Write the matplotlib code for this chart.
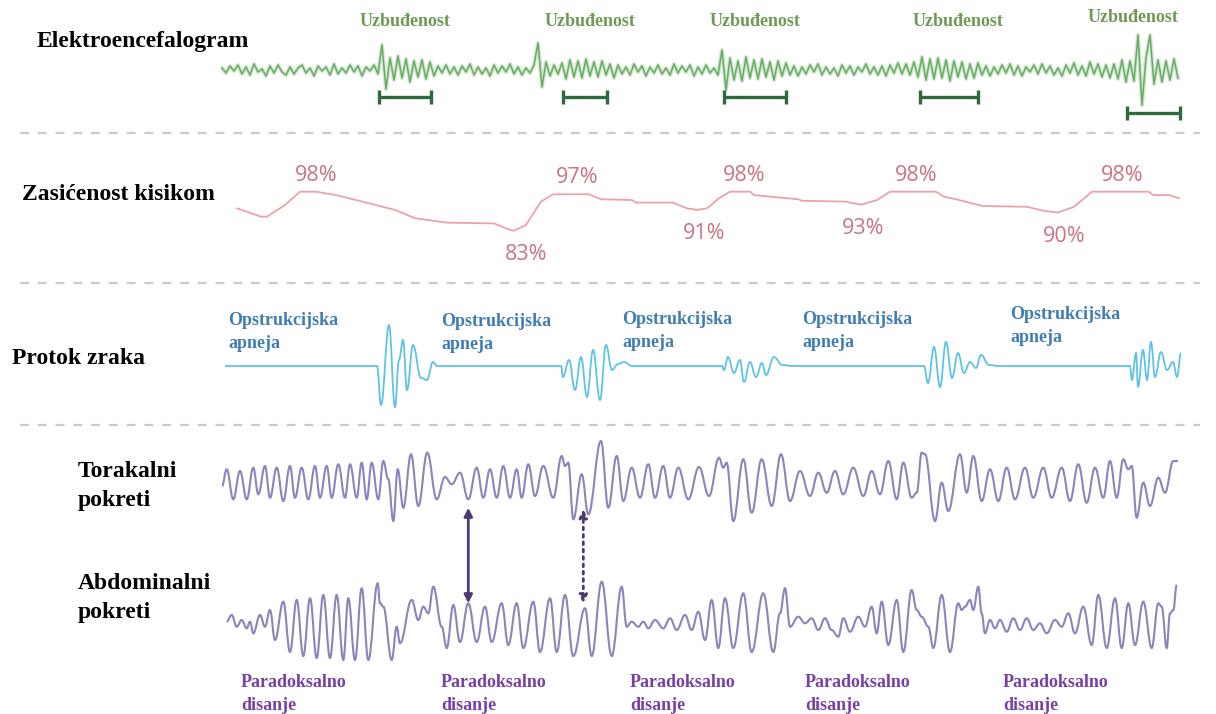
import numpy as np
import matplotlib
matplotlib.use('Agg')
import matplotlib.pyplot as plt
from matplotlib.lines import Line2D
from matplotlib.path import Path
from matplotlib.patches import PathPatch

# ---- data (time axis in samples, 0 = start of the trace area) ----
eeg_vals = [
    2, -3, 4, -1, 5, -4, 3, -5, 6, -2, 1, -6, 4, -3, 5, -2, -5, 3, -4, 2,
    5, -3, 2, -6, 4, -1, 3, -5, 6, -4, 2, -3, 5, -2, 4, -6, 3, -1, 5, -4,
    25, -19, 12, -10, 14, -8, 11, -12, 9, -7, 10, -9, 8, -6, 4, -3, 5, -4, 3, -5,
    4, -2, 6, -5, 3, -4, 2, -6, 5, -3, 4, -2, 6, -4, 3, -5, 2, -3, 5, 27,
    -17, 8, -6, 5, -4, 7, -9, 10, -7, 9, -8, 11, -6, 8, -7, 9, -5, 6, -8, 5,
    -4, 3, -5, 6, -2, 4, -6, 3, -3, 5, -4, 2, -5, 6, -3, 4, -2, 5, -6, 3,
    -4, 5, -3, 2, -5, 20, -20, 12, -10, 9, -11, 13, -8, 10, -9, 11, -7, 8, -10, 9,
    -6, 7, -5, 4, -6, 3, -4, 5, -2, 6, -5, 3, -4, 2, -6, 5, -3, 4, -5, 3,
    -2, 6, -4, 3, -5, 4, -6, 5, -3, 7, -4, 6, -5, 8, -7, 13, -10, 11, -9, 12,
    -8, 10, -11, 9, -7, 8, -9, 6, -8, 7, -5, 4, -6, 3, -4, 5, -3, 6, -5, 4,
    -6, 3, -2, 5, -4, 6, -3, 4, -5, 2, -6, 5, -3, 7, -5, 4, -6, 8, -4, 6,
    -7, 5, -8, 6, -9, 10, -12, 9, -11, 35, -35, 12, 35, -14, 10, -12, 9, -10, 11, -8,
]
arousal_start = [154, 338, 499, 695, 902]
arousal_end = [206, 382, 561, 753, 955]
arousal_level = [-27, -27, -27, -27, -43]
arousal_label_t = [180, 365, 530, 733, 908]
arousal_label_y = [48, 48, 48, 48, 52]

spo2_t = [12, 36, 42, 60, 75, 91, 111, 131, 170, 190, 222, 269, 285, 289, 301, 316, 328, 364, 376, 407,
          411, 448, 462, 472, 482, 494, 505, 525, 529, 545, 573, 577, 620, 636, 652, 665, 711, 719, 731, 747,
          758, 802, 818, 833, 849, 867, 924, 928, 944, 954]
spo2_pct = [91.6, 88.4, 88.4, 92.9, 98, 98, 96.7, 94.8, 91.0, 87.8, 86.1, 85.8, 83.3, 83, 85.2, 94.2, 97, 97, 95.1, 94.8,
            93.8, 93.8, 91.6, 91, 91.6, 95.5, 98, 98, 96.7, 96.1, 95.1, 94.5, 94.2, 93, 94.8, 98, 98, 96.1, 95.1, 93.5,
            92.5, 92.2, 90.7, 90, 92.2, 98, 98, 96.7, 96.7, 95.5]
spo2_label_t = [91, 301, 352, 479, 519, 638, 691, 839, 897]
spo2_label_val = [98, 83, 97, 91, 98, 93, 98, 90, 98]

flow_t = [0, 152, 156, 164, 170, 174, 178, 182, 188, 196, 202, 208, 212,
          336, 338, 344, 350, 356, 362, 368, 375, 381, 387, 393, 399, 407,
          497, 499, 503, 509, 515, 519, 525, 531, 537, 541, 549, 557, 569,
          699, 703, 709, 715, 721, 727, 733, 739, 745, 751, 756, 764, 774,
          905, 907, 911, 913, 918, 922, 926, 930, 936, 942, 948, 952, 956]
flow_vals = [0, 0, -39, 41, -41, 6, 26, -24, 21, -12, -14, 4, 0,
             0, -11, 6, -24, 9, -31, 16, -34, 21, -4, 2, 4, 0,
             0, -4, 9, -7, 6, -16, 4, -11, 3, -9, 9, 1, 0,
             0, -17, 19, -21, 24, -12, 13, -7, 4, -2, 11, 1, 0,
             0, -14, 13, -21, 16, -14, 24, -11, 14, -4, 4, -11, 13]
apnea_label_t = [3, 216, 397, 577, 785]
apnea_label_y = [34, 33, 35, 35, 40]

thor_t = [-3, 1.7, 8.3, 15, 21.7, 28.3, 33.3, 40, 45, 51.7,
          58.3, 65, 70, 76.7, 83.3, 90, 95, 101.7, 106.7, 113.3,
          120, 125, 131.7, 136.7, 141.7, 146.7, 153.3, 158.3, 163.3, 168.3,
          172.7, 178.3, 186, 193.3, 202.3, 211.7, 220, 226.7, 235, 243.3,
          251.7, 258.3, 265, 271.7, 278.3, 285, 291.7, 296.7, 303.3, 310,
          318.3, 328.3, 336.7, 340, 343.3, 348.3, 356.7, 363.3, 376, 383.3,
          391.7, 398.3, 406.7, 415, 423.3, 430, 438.3, 445, 453.3, 463.3,
          474, 484, 494, 498.3, 501.7, 508.3, 518.3, 526.7, 536.7, 546.7,
          556, 565, 575, 585, 593.3, 601.7, 610, 618.3, 628.3, 638.3,
          646.7, 655, 663.3, 671.7, 678.3, 686.7, 691.7, 696.7, 700, 710,
          716.7, 723.3, 735, 741.7, 748.3, 756.7, 765, 773.3, 781.7, 790,
          800, 808.3, 818.3, 826.7, 836.7, 845, 853.3, 861.7, 870, 878.3,
          885, 891.7, 898.3, 903.3, 906.7, 911.7, 918.3, 925, 933.3, 940,
          948.3, 953]
thor_vals = [-3, 13.7, -16.3, 12, -16.3, 15.3, -11.3, 17, -14.7, 15.3,
             -18, 17, -14.7, 15.3, -16.3, 17, -14.7, 17, -14.7, 18.7,
             -14.7, 18.7, -14.7, 20.3, -16.3, 20.3, -16.3, 22, 3.7, -38,
             13.7, -24.7, 28.7, -23, 30.3, -16.3, 6, -1.3, 10.3, -16.3,
             15.3, -14.7, 13.7, -14.7, 17, -14.7, 13.7, -14.7, 18.7, -13,
             17, -14.7, 27, 17, 20.3, -36.3, 8.7, -31.3, 42, -24.7,
             27, -18, 15.3, -14.7, 18.7, -14.7, 17, -14.7, 15.3, -16.3,
             16, -13, 25.3, 15.3, 20.3, -38, 23.7, -29.7, 23.7, -23,
             28.7, -18, 12, -13, 10.3, -9.7, 12, -11.3, 15.3, -13,
             12, -11.3, 22, -16.3, 20.3, -14.7, -9.7, 30.3, 28.7, -38,
             0.3, -28, 28.7, -9.7, 27, -18, 13.7, -18, 15.3, -16.3,
             15.3, -14.7, 15.3, -14.7, 15.3, -18, 18.7, -19.7, 15.3, -14.7,
             22, -14.7, 23.7, 13.7, 17, -34.7, 0.3, -23, 5.3, -9.7,
             22, 22]

abd_t = [1.7, 6.7, 11.7, 16.7, 21.7, 25, 28.3, 35, 40, 45,
         50, 58.3, 65, 71.7, 78.3, 85, 91.7, 98.3, 105, 111.7,
         118.3, 123.3, 130, 136.7, 143.3, 152.7, 155, 158.3, 166.7, 171.7,
         175, 186.7, 193.3, 198.3, 203.3, 208.3, 216.7, 221.7, 228.3, 235,
         243.3, 251.7, 260, 266.7, 276.7, 283.3, 291.7, 298.3, 308.3, 315,
         325, 331.7, 340, 348.3, 360, 366.7, 376.7, 386.7, 396.7, 401.7,
         406.7, 413.3, 418.3, 423.3, 430, 438.3, 445, 451.7, 460, 466.7,
         473.3, 480, 486.7, 493.3, 500, 508.3, 518.3, 526.7, 538.3, 548.3,
         555, 560, 565, 573.3, 580, 586.7, 593.3, 600, 606.7, 613.3,
         618.3, 625, 633.3, 640, 646.7, 651.7, 656.7, 663.3, 671.7, 678.3,
         686.7, 691.7, 696.7, 703.3, 708.3, 716.7, 725, 733.3, 736.7, 740,
         745, 748.3, 753.3, 756.7, 760, 765, 770, 775, 781.7, 788.3,
         795, 801.7, 808.3, 815, 821.7, 830, 836.7, 843.3, 850, 858.3,
         866.7, 873.3, 881.7, 890, 896.7, 903.3, 910, 918.3, 926.7, 933.3,
         936.7, 941.7, 945, 948.3, 951.7]
abd_vals = [-1.7, 5, -6.7, 0, -8.3, -1.7, -13.3, 5, -6.7, 10,
            -20, 18.3, -32, 20, -36, 21.7, -38, 25, -38, 25,
            -40, 21.7, -40, 31.7, -40, 36.7, 16.7, 13.3, -40, -6.7,
            -23.3, 20, 0, 13.3, 6.7, 33.3, -6.7, -28, 15, -22,
            16.7, -22, 13.3, -22, 16.7, -25, 16.7, -28, 18.3, -32,
            21.7, -32, 25, -36, 11.7, -36, 38.3, -36, 33.3, -6.7,
            -1.7, -6.7, -1.7, -8.3, 0, -8.3, 1.7, -10, 5, -10,
            8.3, -20, 20, -28, 21.7, -28, 26.7, -32, 26.7, -32,
            6.7, 31.7, -6.7, 3.3, -3.3, 1.7, -10, 1.7, -10, -16.7,
            1.7, -11.7, 3.3, -6.7, 13.3, -13.3, 18.3, -25, 20, -32,
            30, 10, 3.3, -6.7, -28, 25, -32, 16.7, 10, 13.3,
            20, 10, 33.3, 6.7, -13.3, 0, -8.3, 0, -11.7, 1.7,
            -10, 1.7, -10, -3.3, -13.3, 0, -6.7, 6.7, -13.3, 13.3,
            -25, 25, -28, 21.7, -28, 16.7, -25, 18.3, -28, 16.7,
            13.3, -28, 6.7, 10, 35]
arrow_t = [243.3, 358.3]
arrow_thor_end = [-24.7, -26.3]
arrow_abd_end = [16.7, 16.7]
arrow_style = ['-', ':']
paradox_label_t = [16, 216, 405, 580, 778]

W, H = 1216, 714
SERIF = 'Liberation Serif'

fig = plt.figure(figsize=(W / 100, H / 100), dpi=100)
fig.patch.set_facecolor('white')


def row_axes(top_px, bottom_px, ylim):
    ax = fig.add_axes([222 / W, 1 - bottom_px / H, 960 / W, (bottom_px - top_px) / H])
    ax.set_xlim(-3, 957)
    ax.set_ylim(*ylim)
    ax.axis('off')
    return ax


def fig_text(x_px, y_px, s, **kw):
    fig.text(x_px / W, 1 - y_px / H, s, **kw)


def smooth_trace(ax, t, v, **kw):
    # rounded waveform: cubic segments with flat tangents at each turning point
    verts = [(t[0], v[0])]
    codes = [Path.MOVETO]
    for i in range(len(t) - 1):
        d = (t[i + 1] - t[i]) * 0.4
        verts += [(t[i] + d, v[i]), (t[i + 1] - d, v[i + 1]), (t[i + 1], v[i + 1])]
        codes += [Path.CURVE4] * 3
    ax.add_patch(PathPatch(Path(verts, codes), fill=False, clip_on=False, **kw))


# row titles
row_kw = dict(family=SERIF, weight='bold', fontsize=17, color='black', va='center', ha='left',
              linespacing=1.5)
fig_text(37, 42, 'Elektroencefalogram', **row_kw)
fig_text(22, 195, 'Zasićenost kisikom', **row_kw)
fig_text(12, 358, 'Protok zraka', **row_kw)
fig_text(78, 486, 'Torakalni\npokreti', **row_kw)
fig_text(78, 598, 'Abdominalni\npokreti', **row_kw)

# dashed separators
for y in [133, 283, 425]:
    fig.add_artist(Line2D([20 / W, 1200 / W], [1 - y / H, 1 - y / H], transform=fig.transFigure,
                          color='#cacaca', lw=1.6, ls=(0, (4, 4))))

# EEG
ax_eeg = row_axes(20, 120, (-50, 50))
eeg_t = np.arange(len(eeg_vals)) * 4 - 3
ax_eeg.plot(eeg_t, eeg_vals, color='#7fbf7a', lw=3.0, alpha=0.35, clip_on=False)
ax_eeg.plot(eeg_t, eeg_vals, color='#6aaa66', lw=1.1, clip_on=False)
for a, b, lev in zip(arousal_start, arousal_end, arousal_level):
    ax_eeg.errorbar((a + b) / 2, lev, xerr=(b - a) / 2, fmt='none', ecolor='#2f6a3d',
                    elinewidth=2.4, capsize=5, capthick=2.4, clip_on=False)
for t, y in zip(arousal_label_t, arousal_label_y):
    ax_eeg.text(t, y, 'Uzbuđenost', family=SERIF, weight='bold', fontsize=13,
                color='#6e9a55', ha='center', va='center')

# SpO2
ax_spo2 = row_axes(150, 260, (71.73, 114.04))
ax_spo2.plot(spo2_t, spo2_pct, color='#eaa3aa', lw=1.3, clip_on=False)
for t, v in zip(spo2_label_t, spo2_label_val):
    dy = 12 if v >= 97 else -17
    ax_spo2.annotate(f'{v}%', xy=(t, v), xytext=(0, dy), textcoords='offset points',
                     ha='center', va='center', fontsize=15.5, family='Open Sans',
                     color='#c97483')

# airflow
ax_flow = row_axes(300, 420, (-54, 66))
smooth_trace(ax_flow, flow_t, flow_vals, edgecolor='#5fc3e4', lw=1.3)
for t, y in zip(apnea_label_t, apnea_label_y):
    ax_flow.text(t, y, 'Opstrukcijska\napneja', family=SERIF, weight='bold', fontsize=13,
                 color='#3f7db3', ha='left', va='center', linespacing=1.4)

# thoracic / abdominal effort
ax_thor = row_axes(430, 540, (-57, 53))
smooth_trace(ax_thor, thor_t, thor_vals, edgecolor='#8c84ba', lw=1.5)
ax_abd = row_axes(560, 680, (-60, 60))
smooth_trace(ax_abd, abd_t, abd_vals, edgecolor='#8c84ba', lw=1.5)

for t, yt, ya, ls in zip(arrow_t, arrow_thor_end, arrow_abd_end, arrow_style):
    ax_abd.annotate('', xy=(t, ya), xycoords='data', xytext=(t, yt), textcoords=ax_thor.transData,
                    annotation_clip=False,
                    arrowprops=dict(arrowstyle='<|-|>', color='#4d3a72', lw=2.0, ls=ls,
                                    shrinkA=0, shrinkB=0, mutation_scale=12))

for t in paradox_label_t:
    ax_abd.text(t, -74, 'Paradoksalno\ndisanje', family=SERIF, weight='bold', fontsize=13,
                color='#7a3fa6', ha='left', va='center', linespacing=1.4)

fig.savefig('out.png', dpi=100, facecolor='white')
plt.close(fig)
